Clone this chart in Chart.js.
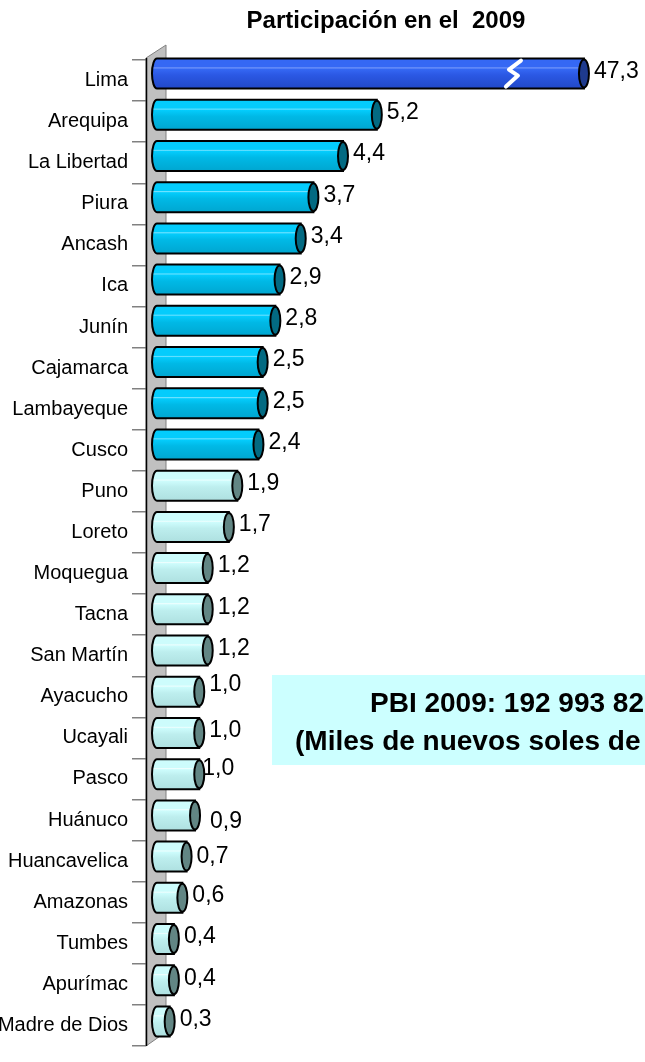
<!DOCTYPE html>
<html>
<head>
<meta charset="utf-8">
<script src="https://cdn.jsdelivr.net/npm/chart.js@4/dist/chart.umd.min.js"></script>
<style>
  html, body { margin: 0; padding: 0; background: #ffffff; }
  #wrap { width: 645px; height: 1062px; position: relative; }
  canvas { display: block; }
</style>
</head>
<body>
<div id="wrap"><canvas id="c" width="645" height="1062"></canvas></div>
<script>
// ---- data ----
const categories = ["Lima", "Arequipa", "La Libertad", "Piura", "Ancash", "Ica", "Junín", "Cajamarca",
  "Lambayeque", "Cusco", "Puno", "Loreto", "Moquegua", "Tacna", "San Martín", "Ayacucho", "Ucayali",
  "Pasco", "Huánuco", "Huancavelica", "Amazonas", "Tumbes", "Apurímac", "Madre de Dios"];
const values = [47.3, 5.2, 4.4, 3.7, 3.4, 2.9, 2.8, 2.5, 2.5, 2.4, 1.9, 1.7, 1.2, 1.2, 1.2, 1.0, 1.0,
  1.0, 0.9, 0.7, 0.6, 0.4, 0.4, 0.3];
const groups = [0, 1, 1, 1, 1, 1, 1, 1, 1, 1, 2, 2, 2, 2, 2, 2, 2, 2, 2, 2, 2, 2, 2, 2];
const titleText = "Participación en el  2009";
const boxLines = ["PBI 2009: 192 993 826", "(Miles de nuevos soles de 1994)"];
const axisMin = -0.26, axisMax = 11;
const breakValue = 10.1;      // the Lima bar is drawn broken at this length
const breakMarkValue = 8.42;  // where the break symbol sits

// ---- styles ----
const palettes = [
  { top: "#3568f4", stripe: "#7a9cfa", low: "#2b58e4", bottom: "#2148c8", cap: "#1e3a8e" },
  { top: "#04ccfc", stripe: "#70e2ff", low: "#00b9e6", bottom: "#00a6d0", cap: "#036a82" },
  { top: "#cdfcfc", stripe: "#eefefe", low: "#bdeeee", bottom: "#aee0e0", cap: "#628684" }
];
const labelNudge = { 15: [0, -5], 17: [-7, -4], 18: [5, 8], 19: [0, 2] };
const FONT = "'Liberation Sans', Arial, sans-serif";

const cylinderPlugin = {
  id: "cylinders",
  beforeDatasetsDraw(chart) {
    const ctx = chart.ctx, a = chart.chartArea;
    ctx.save();
    ctx.beginPath();
    ctx.moveTo(a.left, a.top - 2);
    ctx.lineTo(a.left + 20, a.top - 15);
    ctx.lineTo(a.left + 20, a.bottom - 14);
    ctx.lineTo(a.left, a.bottom);
    ctx.closePath();
    ctx.fillStyle = "#c0c0c0";
    ctx.fill();
    ctx.lineWidth = 1;
    ctx.strokeStyle = "#808080";
    ctx.stroke();
    ctx.beginPath();
    ctx.moveTo(a.left + 0.5, a.top - 2);
    ctx.lineTo(a.left + 0.5, a.bottom);
    ctx.strokeStyle = "#000";
    ctx.lineWidth = 1.5;
    ctx.stroke();
    ctx.restore();
  },
  afterDatasetsDraw(chart) {
    const ctx = chart.ctx;
    const meta = chart.getDatasetMeta(0);
    const xs = chart.scales.x;
    const n = meta.data.length;
    meta.data.forEach((el, i) => {
      const p = palettes[groups[i]];
      const h = 30;
      const yc = el.y - 7 + 3 * i / (n - 1);
      const top = yc - h / 2, bot = yc + h / 2;
      const x0 = xs.getPixelForValue(0);
      const v = Math.min(values[i], breakValue);
      const x1 = xs.getPixelForValue(v);
      const rx = 5;
      ctx.save();
      const g = ctx.createLinearGradient(0, top, 0, bot);
      g.addColorStop(0, p.top);
      g.addColorStop(0.28, p.top);
      g.addColorStop(0.31, p.stripe);
      g.addColorStop(0.35, p.top);
      g.addColorStop(0.55, p.low);
      g.addColorStop(1, p.bottom);
      ctx.beginPath();
      ctx.moveTo(x0, top);
      ctx.lineTo(x1, top);
      ctx.lineTo(x1, bot);
      ctx.lineTo(x0, bot);
      ctx.ellipse(x0, yc, rx, h / 2, 0, Math.PI / 2, Math.PI * 1.5);
      ctx.closePath();
      ctx.fillStyle = g;
      ctx.fill();
      ctx.lineWidth = 2;
      ctx.strokeStyle = "#000";
      ctx.stroke();
      ctx.beginPath();
      ctx.ellipse(x1, yc, rx, h / 2 - 1, 0, 0, Math.PI * 2);
      ctx.fillStyle = p.cap;
      ctx.fill();
      ctx.lineWidth = 2;
      ctx.stroke();
      if (values[i] > breakValue) {
        const cx = xs.getPixelForValue(breakMarkValue);
        ctx.beginPath();
        ctx.moveTo(cx + 8, yc - 13);
        ctx.lineTo(cx - 4, yc - 4);
        ctx.lineTo(cx + 5, yc + 2);
        ctx.lineTo(cx - 7, yc + 13);
        ctx.strokeStyle = "#ffffff";
        ctx.lineWidth = 4;
        ctx.lineJoin = "round";
        ctx.lineCap = "round";
        ctx.stroke();
      }
      const nd = labelNudge[i] || [0, 0];
      ctx.fillStyle = "#000";
      ctx.font = "23px " + FONT;
      ctx.textAlign = "left";
      ctx.textBaseline = "middle";
      ctx.fillText(values[i].toFixed(1).replace(".", ","), x1 + rx + 5 + nd[0], yc - 2 + nd[1]);
      ctx.restore();
    });
  },
  afterDraw(chart) {
    const ctx = chart.ctx;
    ctx.save();
    ctx.fillStyle = "#000";
    ctx.font = "bold 24px " + FONT;
    ctx.textAlign = "center";
    ctx.textBaseline = "alphabetic";
    ctx.fillText(titleText, 386, 28);
    ctx.fillStyle = "#ccffff";
    ctx.fillRect(272, 675, 420, 90);
    ctx.fillStyle = "#000";
    ctx.font = "bold 28px " + FONT;
    ctx.textAlign = "left";
    ctx.fillText(boxLines[0], 370, 712);
    ctx.fillText(boxLines[1], 295, 750);
    ctx.restore();
  }
};

new Chart(document.getElementById("c"), {
  type: "bar",
  data: {
    labels: categories,
    datasets: [{
      data: values,
      backgroundColor: "rgba(0,0,0,0)",
      borderWidth: 0,
      barThickness: 30
    }]
  },
  options: {
    indexAxis: "y",
    responsive: false,
    devicePixelRatio: 1,
    animation: false,
    events: [],
    layout: { padding: { top: 60, right: 23, bottom: 0, left: 0 } },
    plugins: { legend: { display: false }, tooltip: { enabled: false }, title: { display: false } },
    scales: {
      x: { display: false, min: axisMin, max: axisMax },
      y: {
        afterFit(scale) { scale.width = 146; },
        border: { display: false },
        grid: { drawOnChartArea: false, drawTicks: true, tickLength: 14, color: "#808080", lineWidth: 1.5, offset: true },
        ticks: { color: "#000", padding: 4, font: { family: FONT, size: 20 }, autoSkip: false }
      }
    }
  },
  plugins: [cylinderPlugin]
});
</script>
</body>
</html>
